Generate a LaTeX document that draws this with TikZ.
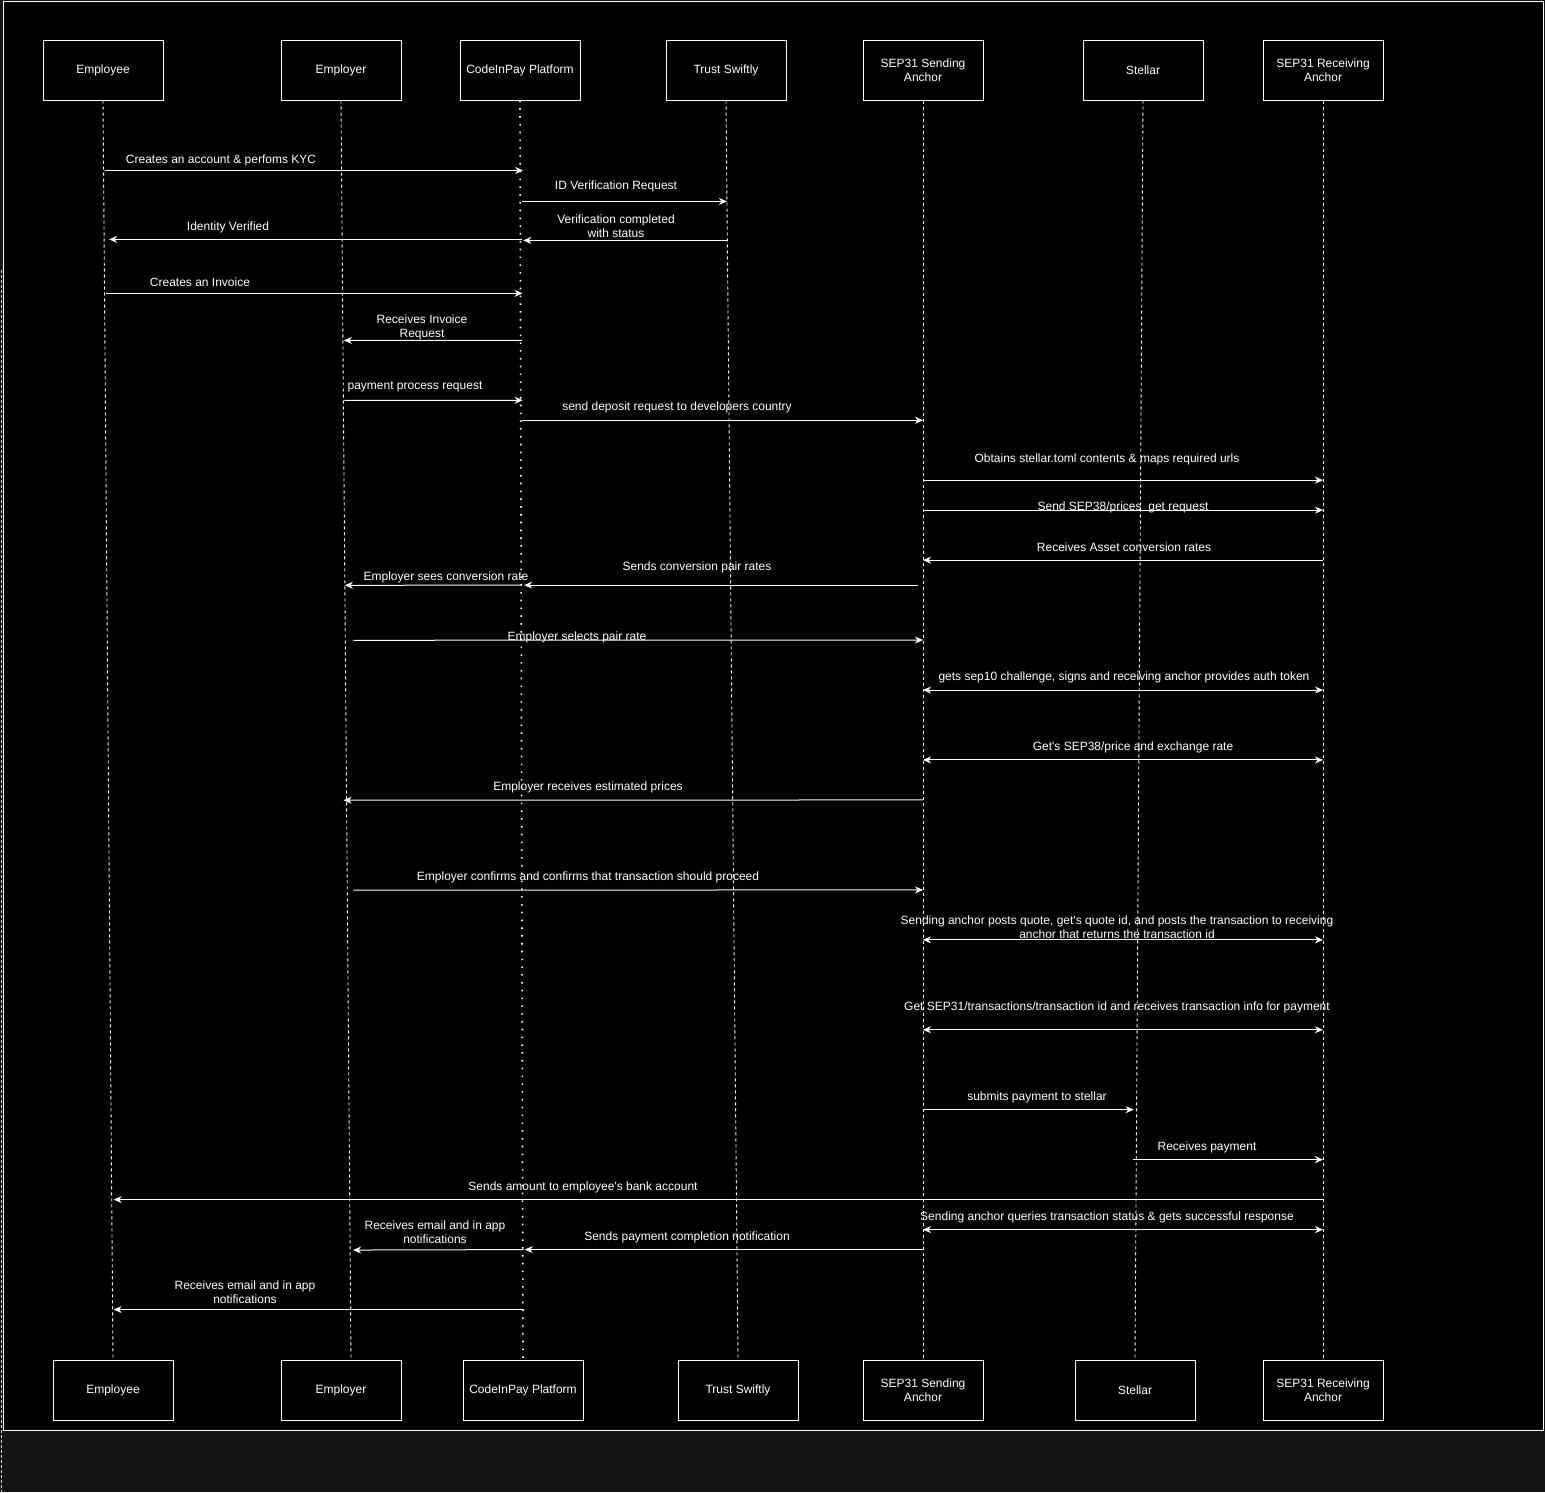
\documentclass[tikz,border=0pt]{standalone}
\usepackage{fontspec}
\setmainfont{Liberation Sans}
\usetikzlibrary{calc,arrows.meta}
\definecolor{bandgray}{HTML}{141414}
\tikzset{
  actor/.style={draw=white, fill=black, line width=1pt, minimum width=120pt, minimum height=60pt,
    text=white, align=center, font=\fontsize{12}{14}\selectfont, inner sep=0pt},
  life/.style={draw=white, line width=0.9pt, dash pattern=on 3pt off 3pt},
  lifedot/.style={draw=white, line width=1.6pt, dash pattern=on 1.6pt off 6.2pt},
  msg/.style={draw=white, line width=1pt, -{Stealth[length=8pt,width=7pt,inset=2.5pt]}},
  msgb/.style={draw=white, line width=1pt, {Stealth[length=8pt,width=7pt,inset=2.5pt]}-{Stealth[length=8pt,width=7pt,inset=2.5pt]}},
  lbl/.style={text=white, align=center, font=\fontsize{12}{14}\selectfont, inner sep=0pt, yshift=-1.2pt},
}
\newcommand\seqmsg[9]{%
  \coordinate (#1s) at ($(#3T.south)!{(#7-100)/1260}!(#3E)+(#4,0)$);
  \coordinate (#1t) at ($(#5T.south)!{(#7-100)/1260}!(#5E)+(#6,0)$);
  \draw[#2] (#1s) -- (#1t);
  \node[lbl] (#1l) at #8 {#9};}
\begin{document}
\begin{tikzpicture}[x=1pt,y=-1pt]
\useasboundingbox (0,0) rectangle (1545,1492);
\fill[bandgray] (0,0) rectangle (1545,1492);
\draw[white, fill=black, line width=1pt] (3,1) rectangle (1543,1430);
\draw[white!85!black, line width=1pt, dash pattern=on 3pt off 2pt] (1,270) -- (1,1492);

% actors
\node[actor] (empT) at (103,70) {\raisebox{-1pt}{Employee}};
\node[actor] (emrT) at (341,70) {\raisebox{-1pt}{Employer}};
\node[actor] (cipT) at (520,70) {\raisebox{-1pt}{CodeInPay Platform}};
\node[actor] (trsT) at (726,70) {\raisebox{-1pt}{Trust Swiftly}};
\node[actor] (sndT) at (923,70) {SEP31 Sending\\Anchor};
\node[actor] (stlT) at (1143,70) {\raisebox{-1pt}{Stellar}};
\node[actor] (rcvT) at (1323,70) {SEP31 Receiving\\Anchor};

\node[actor] (empB) at (113,1390) {\raisebox{-1pt}{Employee}};
\node[actor] (emrB) at (341,1390) {\raisebox{-1pt}{Employer}};
\node[actor] (cipB) at (523,1390) {\raisebox{-1pt}{CodeInPay Platform}};
\node[actor] (trsB) at (738,1390) {\raisebox{-1pt}{Trust Swiftly}};
\node[actor] (sndB) at (923,1390) {SEP31 Sending\\Anchor};
\node[actor] (stlB) at (1135,1390) {\raisebox{-1pt}{Stellar}};
\node[actor] (rcvB) at (1323,1390) {SEP31 Receiving\\Anchor};

\coordinate (empE) at (empB.north);
\coordinate (emrE) at (351,1360);
\coordinate (cipE) at (cipB.north);
\coordinate (trsE) at (trsB.north);
\coordinate (sndE) at (sndB.north);
\coordinate (stlE) at (stlB.north);
\coordinate (rcvE) at (rcvB.north);

% lifelines
\draw[life] (empT.south) -- (empE);
\draw[life] (emrT.south) -- (emrE);
\draw[lifedot] (cipT.south) -- (cipE);
\draw[life] (trsT.south) -- (trsE);
\draw[life] (sndT.south) -- (sndE);
\draw[life] (stlT.south) -- (stlE);
\draw[life] (rcvT.south) -- (rcvE);

% messages
\seqmsg{m1}{msg}{emp}{1.5}{cip}{3}{170}{(221,159)}{Creates an account \& perfoms KYC}
\seqmsg{m2}{msg}{cip}{2}{trs}{0}{201}{(616,185)}{ID Verification Request}
\seqmsg{m3}{msg}{trs}{0}{cip}{3}{240}{(616,225)}{Verification completed\\with status}
\seqmsg{m4}{msg}{cip}{2}{emp}{5}{239}{(228,226)}{Identity Verified}
\seqmsg{m5}{msg}{emp}{1.5}{cip}{2}{293}{(200,281)}{Creates an Invoice}
\seqmsg{m6}{msg}{cip}{1.5}{emr}{1}{340}{(422,326)}{Receives Invoice\\Request}
\seqmsg{m7}{msg}{emr}{1}{cip}{2}{400}{(415,386)}{payment process request}
\seqmsg{m8}{msg}{cip}{1.5}{snd}{0}{420}{(677,406)}{send deposit request to developers country}
\seqmsg{m9}{msg}{snd}{0}{rcv}{0}{480}{(1107,458)}{Obtains stellar.toml contents \& maps required urls}
\seqmsg{m10}{msg}{snd}{0}{rcv}{0}{510}{(1123,506)}{Send SEP38/prices\ \ get request}
\seqmsg{m11}{msg}{rcv}{0}{snd}{0}{560}{(1124,546)}{Receives Asset conversion rates}
\seqmsg{m12}{msg}{snd}{-5}{cip}{3}{585}{(697,566)}{Sends conversion pair rates}
\seqmsg{m13}{msg}{cip}{1}{emr}{0}{585}{(446,576)}{Employer sees conversion rate}
\seqmsg{m14}{msg}{emr}{8}{snd}{0}{640}{(577,636)}{Employer selects pair rate}
\seqmsg{m15}{msgb}{snd}{0}{rcv}{0}{690}{(1124,676)}{gets sep10 challenge, signs and receiving anchor provides auth token}
\seqmsg{m16}{msgb}{snd}{0}{rcv}{0}{760}{(1133,746)}{Get\textquotesingle s SEP38/price and exchange rate}
\seqmsg{m17}{msg}{snd}{0}{emr}{-3}{800}{(588,786)}{Employer receives estimated prices}
\seqmsg{m18}{msg}{emr}{6}{snd}{0}{890}{(588,876)}{Employer confirms and confirms that transaction should proceed}
\seqmsg{m19}{msgb}{snd}{0}{rcv}{0}{940}{(1117,926)}{Sending anchor posts quote, get\textquotesingle s quote id, and posts the transaction to receiving\\anchor that returns the transaction id}
\seqmsg{m20}{msgb}{snd}{0}{rcv}{0}{1030}{(1117,1006)}{Get SEP31/transactions/transaction id and receives transaction info for payment}
\seqmsg{m21}{msg}{snd}{0}{stl}{-3}{1110}{(1037,1096)}{submits payment to stellar}
\seqmsg{m22}{msg}{stl}{-3}{rcv}{0}{1160}{(1207,1146)}{Receives payment}
\seqmsg{m23}{msg}{rcv}{0}{emp}{2}{1200}{(583,1186)}{Sends amount to employee\textquotesingle s bank account}
\seqmsg{m24}{msgb}{snd}{0}{rcv}{0}{1230}{(1107,1216)}{Sending anchor queries transaction status \& gets successful response}
\seqmsg{m25}{msg}{snd}{0}{cip}{2}{1250}{(687,1236)}{Sends payment completion notification}
\seqmsg{m26}{msg}{cip}{1}{emr}{3}{1250}{(435,1231)}{Receives email and in app\\notifications}
\seqmsg{m27}{msg}{cip}{1}{emp}{1}{1310}{(245,1291)}{Receives email and in app\\notifications}
\end{tikzpicture}
\end{document}
